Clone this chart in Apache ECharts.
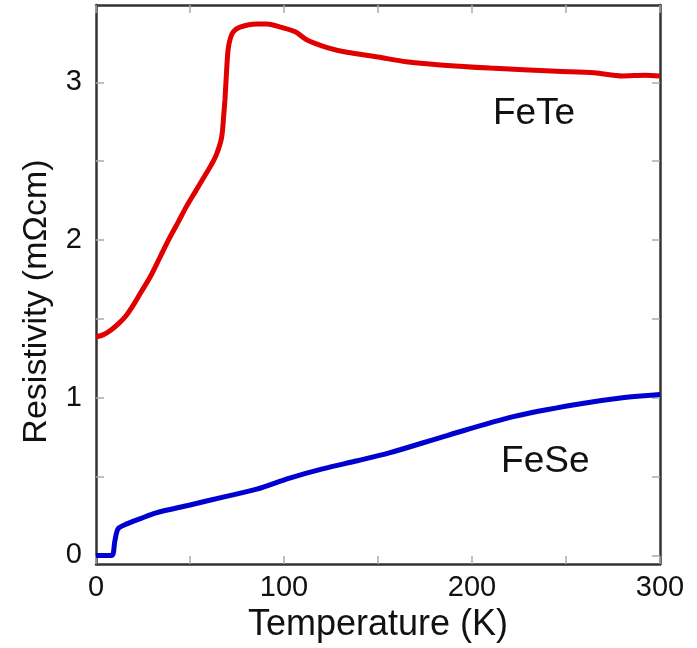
<!DOCTYPE html>
<html>
<head>
<meta charset="utf-8">
<script src="https://cdn.jsdelivr.net/npm/echarts@6/dist/echarts.min.js"></script>
<style>
  html, body { margin: 0; padding: 0; background: #fff; }
  #chart { width: 697px; height: 648px; }
</style>
</head>
<body>
<div id="chart"></div>
<script>
// FeTe curve (T in K, resistivity in mOhm cm)
const feTe = [
  [0, 1.386], [4, 1.4], [8, 1.43], [12, 1.47], [16, 1.52], [20, 1.59],
  [24, 1.67], [29, 1.77], [34, 1.89], [39, 2.01], [44, 2.12], [48, 2.21],
  [53, 2.31], [57, 2.39], [61, 2.47], [64, 2.54], [66.8, 2.65], [68, 2.8],
  [68.6, 2.89], [69.5, 3.08], [70.3, 3.21], [71.5, 3.28], [73, 3.32],
  [76.6, 3.35], [85.5, 3.37], [91, 3.37], [98, 3.35], [106, 3.32],
  [112, 3.27], [123, 3.22], [133.5, 3.19], [150, 3.16], [165, 3.13],
  [183, 3.11], [209.6, 3.09], [245, 3.07], [265, 3.06], [280, 3.04],
  [292, 3.045], [300, 3.04]
];

// FeSe curve
const feSe = [
  [0, 0.0], [8.3, 0.0], [10, 0.09], [11.8, 0.17], [16.4, 0.2], [24, 0.235],
  [32, 0.27], [50, 0.32], [67.6, 0.37], [85.5, 0.42], [103, 0.49],
  [121, 0.55], [139, 0.6], [156, 0.65], [186.7, 0.76], [222, 0.88],
  [257, 0.96], [280, 1.0], [300, 1.02]
];

const yTicks = [0, 0.5, 1, 1.5, 2, 2.5, 3];
const yLabels = [0, 1, 2, 3];
const xLabels = [0, 100, 200, 300];

const curveLabels = [
  { text: "FeTe", at: [233, 2.8] },
  { text: "FeSe", at: [239, 0.595] }
];

const FONT = "Liberation Sans, Arial, Helvetica, sans-serif";
const frame = { show: true, onZero: false, lineStyle: { color: "#333", width: 2.5 } };
const tick = { show: true, inside: true, length: 8, lineStyle: { color: "#aaa", width: 1.5 } };

const chart = echarts.init(document.getElementById("chart"), null, { renderer: "canvas" });

chart.setOption({
  animation: false,
  grid: { left: 96, right: 37, top: 5, bottom: 82 },
  xAxis: [
    {
      type: "value", position: "bottom", min: 0, max: 300, interval: 50,
      axisLine: frame, axisTick: tick, splitLine: { show: false },
      axisLabel: {
        fontFamily: FONT, fontSize: 29, color: "#111", margin: 9,
        formatter: (v) => (xLabels.includes(v) ? String(v) : "")
      },
      name: "Temperature (K)", nameLocation: "middle", nameGap: 34,
      nameTextStyle: { fontFamily: FONT, fontSize: 36, color: "#111" }
    },
    {
      type: "value", position: "top", min: 0, max: 300, interval: 50,
      axisLine: frame, axisTick: tick, axisLabel: { show: false }, splitLine: { show: false }
    }
  ],
  yAxis: [
    {
      type: "value", position: "left", min: -0.055, max: 3.49,
      axisLine: frame, splitLine: { show: false },
      axisTick: Object.assign({ customValues: yTicks }, tick),
      axisLabel: {
        customValues: yLabels, fontFamily: FONT, fontSize: 29, color: "#111", margin: 14
      },
      name: "Resistivity (m\u03a9cm)", nameLocation: "middle", nameGap: 42,
      nameTextStyle: { fontFamily: FONT, fontSize: 34, color: "#111", padding: [0, 34, 0, 0] }
    },
    {
      type: "value", position: "right", min: -0.055, max: 3.49,
      axisLine: frame, splitLine: { show: false },
      axisTick: Object.assign({ customValues: yTicks }, tick),
      axisLabel: { show: false }
    }
  ],
  series: [
    {
      name: "FeTe", type: "line", data: feTe, showSymbol: false, smooth: 0.3,
      lineStyle: { color: "#e00000", width: 5 }, z: 3
    },
    {
      name: "FeSe", type: "line", data: feSe, showSymbol: false, smooth: 0.3,
      lineStyle: { color: "#0000d0", width: 5 }, z: 3
    }
  ]
});

// place curve names at data coordinates
chart.setOption({
  graphic: curveLabels.map((l) => {
    const p = chart.convertToPixel({ gridIndex: 0 }, l.at);
    return {
      type: "text", x: p[0], y: p[1],
      style: {
        text: l.text, fontFamily: FONT, fontSize: 37, fill: "#111",
        align: "center", verticalAlign: "middle"
      }
    };
  })
});
</script>
</body>
</html>
